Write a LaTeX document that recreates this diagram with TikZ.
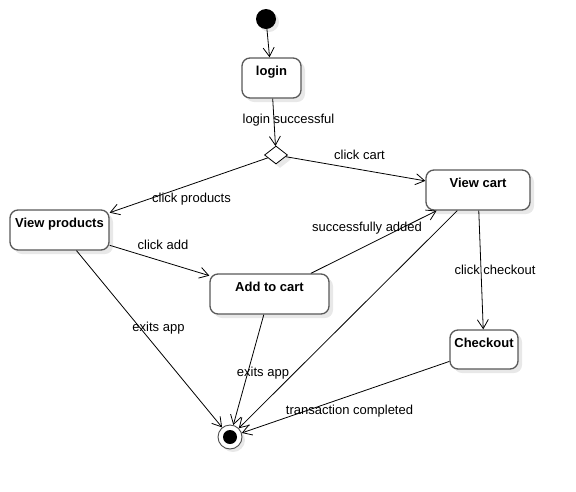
\documentclass[tikz,border=0pt]{standalone}
\usepackage{fontspec}
\setmainfont{Liberation Sans}
\usetikzlibrary{shapes.geometric,arrows.meta,shadows}
\begin{document}
\begin{tikzpicture}[x=1pt,y=-1pt,
  every node/.style={font=\fontsize{13}{15}\selectfont},
  shade/.style={drop shadow={shadow xshift=4pt,shadow yshift=-4pt,fill=black!9,opacity=1}},
  state/.style={draw=black!65,line width=1.3pt,rounded corners=8pt,fill=white,shade,
    inner xsep=0pt,inner ysep=0pt,text height=17pt,text depth=23pt,
    font=\fontsize{13}{15}\selectfont\bfseries},
  choice/.style={diamond,draw=black,line width=0.8pt,fill=white,shade,inner sep=0pt,
    minimum width=23pt,minimum height=18pt},
  trans/.style={draw=black,line width=0.8pt,-{Straight Barb[length=9pt,width=11pt]}},
  lbl/.style={inner sep=0pt,fill=none,yshift=-1.5pt}]
\useasboundingbox (0,0) rectangle (576,491);
\node[circle,fill=black,minimum size=20pt,inner sep=0pt,drop shadow={shadow xshift=3pt,shadow yshift=-3pt,fill=black!9,opacity=1}] (init) at (266,19) {};
\node[state,minimum width=59pt] (login) at (271.5,78) {login};
\node[choice] (dec) at (276,155) {};
\node[state,minimum width=104pt] (cart) at (478,190) {View cart};
\node[state,minimum width=99pt] (prod) at (59.5,230) {View products};
\node[state,minimum width=119pt] (add) at (269.5,294) {Add to cart};
\node[state,minimum width=68pt,text depth=22pt] (chk) at (484,349.5) {Checkout};
\node[circle,draw=black!70,line width=0.9pt,fill=white,minimum size=24pt,inner sep=0pt,drop shadow={shadow xshift=3pt,shadow yshift=-3pt,fill=black!9,opacity=1}] (fin) at (230,437) {};
\node[circle,fill=black,minimum size=14pt,inner sep=0pt] (finc) at (230,437) {};

\draw[trans] (init) -- (login);
\draw[trans] (login) -- (dec) node[lbl,at={(288.5,119)}] {login successful};
\draw[trans] (dec) -- (cart) node[lbl,at={(359.5,153)}] {click cart};
\draw[trans] (dec) -- (prod) node[lbl,at={(191.5,198)}] {click products};
\draw[trans] (prod) -- (add) node[lbl,at={(163,243)}] {click add};
\draw[trans] (add) -- (cart) node[lbl,at={(367,227)}] {successfully added};
\draw[trans] (cart) -- (chk) node[lbl,at={(495,268)}] {click checkout};
\draw[trans] (prod) -- (fin) node[lbl,at={(158.5,327)}] {exits app};
\draw[trans] (add) -- (fin) node[lbl,at={(263,372)}] {exits app};
\draw[trans] (cart) -- (fin);
\draw[trans] (chk) -- (fin) node[lbl,at={(349.5,410)}] {transaction completed};
\end{tikzpicture}
\end{document}
